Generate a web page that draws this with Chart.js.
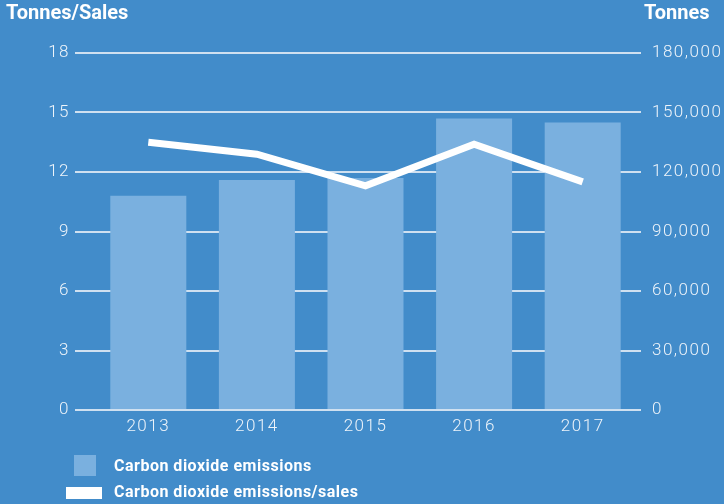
<!DOCTYPE html>
<html>
<head>
<meta charset="utf-8">
<script src="https://cdn.jsdelivr.net/npm/chart.js@4.4.1/dist/chart.umd.min.js"></script>
<style>
  html, body { margin: 0; padding: 0; background: #428cca; }
  #wrap { position: relative; width: 724px; height: 504px; font-family: Roboto, "DejaVu Sans", sans-serif; color: #fff; }
  #myChart { position: absolute; left: 0; top: 0; }
  .axisTitle { position: absolute; top: 0px; font-weight: 700; font-size: 20px; }
  #legend { position: absolute; left: 0; top: 452px; }
  .legendItem { position: absolute; white-space: nowrap; font-weight: 700; font-size: 16px; letter-spacing: 0.5px; }
  .legendItem span { position: absolute; }
</style>
</head>
<body>
<div id="wrap">
  <canvas id="myChart" width="724" height="504"></canvas>
  <div class="axisTitle" style="left:6px">Tonnes/Sales</div>
  <div class="axisTitle" style="left:644px">Tonnes</div>
  <div id="legend"></div>
</div>
<script>
let years = ["2013", "2014", "2015", "2016", "2017"];
let emissions = [108000, 116000, 117000, 147000, 145000];
let emissionsPerSales = [13.5, 12.9, 11.3, 13.4, 11.5];

let barColor = "#7ab0df";
let gridColor = "#cfe0f0";
let tickColor = "#eef4fa";

let tickFont = { family: "Roboto", size: 17, weight: "300" };

// wider tick lettering (canvas state is reset on resize, so set it again each pass)
let spacing = {
  id: "spacing",
  beforeUpdate(chart) {
    chart.ctx.letterSpacing = "1.5px";
  },
  beforeDraw(chart) {
    chart.ctx.letterSpacing = "1.5px";
  },
};

let chart = new Chart(document.getElementById("myChart"), {
  data: {
    labels: years,
    datasets: [
      {
        type: "line",
        label: "Carbon dioxide emissions/sales",
        data: emissionsPerSales,
        yAxisID: "y",
        borderColor: "#ffffff",
        backgroundColor: "#ffffff",
        borderWidth: 7,
        borderCapStyle: "butt",
        borderJoinStyle: "miter",
        pointRadius: 0,
        tension: 0,
        order: 0,
      },
      {
        type: "bar",
        label: "Carbon dioxide emissions",
        data: emissions,
        yAxisID: "y1",
        backgroundColor: barColor,
        categoryPercentage: 1,
        barPercentage: 0.7,
        order: 1,
      },
    ],
  },
  options: {
    responsive: false,
    animation: false,
    layout: { padding: { top: 53, left: 0, right: 0, bottom: 0 } },
    plugins: { legend: { display: false }, tooltip: { enabled: false } },
    scales: {
      x: {
        grid: { display: false, drawTicks: false },
        border: { display: false },
        ticks: { color: tickColor, font: tickFont, padding: 7 },
        afterFit: (scale) => { scale.height = 94; },
      },
      y: {
        position: "left",
        min: 0,
        max: 18,
        ticks: { stepSize: 3, color: tickColor, font: tickFont, padding: 5 },
        grid: { color: gridColor, lineWidth: 2, tickLength: 19, tickColor: gridColor },
        border: { display: false },
        afterFit: (scale) => { scale.width = 94; },
      },
      y1: {
        position: "right",
        min: 0,
        max: 180000,
        ticks: {
          stepSize: 30000,
          color: tickColor,
          font: tickFont,
          padding: 11,
          callback: (v) => v.toLocaleString("en-US"),
        },
        grid: { drawOnChartArea: false, lineWidth: 2, tickLength: 4, tickColor: gridColor },
        border: { display: false },
        afterFit: (scale) => { scale.width = 87; },
      },
    },
  },
  plugins: [spacing],
});

// legend, one item per line: bars first, then the line
let legend = document.getElementById("legend");
let legendRows = [
  { ds: chart.data.datasets[1], top: 3, swatch: "left:74px;top:0px;width:22px;height:21px", text: 1 },
  { ds: chart.data.datasets[0], top: 33, swatch: "left:66px;top:2px;width:36px;height:12px", text: -3 },
];
for (let row of legendRows) {
  let item = document.createElement("div");
  item.className = "legendItem";
  item.style.top = row.top + "px";
  let box = document.createElement("span");
  box.style.cssText = row.swatch + ";background:" + (row.ds.type == "bar" ? row.ds.backgroundColor : row.ds.borderColor);
  let text = document.createElement("span");
  text.style.cssText = "left:114px;top:" + row.text + "px";
  text.innerText = row.ds.label;
  item.appendChild(box);
  item.appendChild(text);
  legend.appendChild(item);
}
</script>
</body>
</html>
